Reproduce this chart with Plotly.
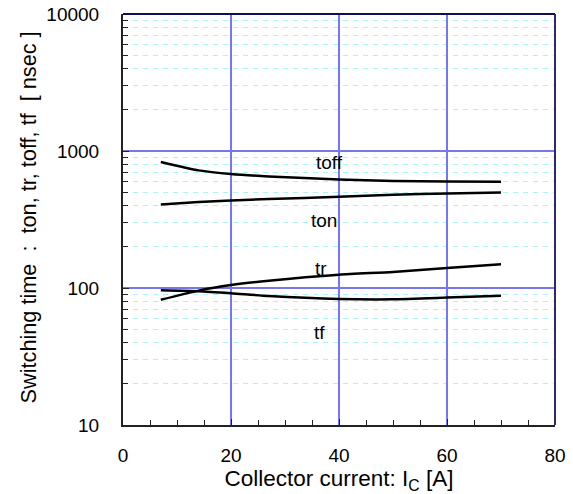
import math
import plotly.graph_objects as go

# Data
ic = [7, 14, 20, 27, 40, 50, 60, 70]
toff = [832, 722, 679, 652, 619, 605, 600, 597]
ton = [407, 424, 436, 446, 463, 480, 490, 498]
tr = [82, 95.7, 105, 113, 125, 131, 140, 149]
tf = [96.4, 94.8, 91.7, 87.5, 83.2, 82.7, 85.1, 87.9]

series_names = ["toff", "ton", "tr", "tf"]
label_x = [38.3, 37.3, 36.6, 36.3]
label_y = [826, 311, 139, 47]

x_ticks = [0, 20, 40, 60, 80]
y_ticks = [10, 100, 1000, 10000]
y_minor = [m * d for d in (10, 100, 1000) for m in range(2, 10)]

x_title = "Collector current: I<sub>C</sub> [A]"
y_title = "Switching time  :  ton, tr, toff, tf  [ nsec ]"

FONT = "Liberation Sans, Arial, sans-serif"

fig = go.Figure()
for ys in (toff, ton, tr, tf):
    fig.add_trace(go.Scatter(x=ic, y=ys, mode="lines",
                             line=dict(color="black", width=2.5, shape="spline", smoothing=0.6),
                             showlegend=False, hoverinfo="skip"))

for name, lx, ly in zip(series_names, label_x, label_y):
    fig.add_annotation(x=lx, y=math.log10(ly), yref="y", xref="x", text=name, showarrow=False,
                       font=dict(size=19, color="black", family=FONT))

# Y-axis title as rotated annotation
fig.add_annotation(x=-0.22, y=0.505, xref="paper", yref="paper", text=y_title,
                   textangle=-90, showarrow=False, xanchor="center", yanchor="middle",
                   font=dict(size=21.7, color="black", family=FONT))

# Major horizontal grid lines (blue) at 100 and 1000
for v in (100, 1000):
    fig.add_shape(type="line", xref="x", yref="y", x0=0, x1=80, y0=v, y1=v,
                  line=dict(color="#4a4ae0", width=1.5), layer="below")

fig.update_layout(
    width=573, height=494,
    margin=dict(l=123, r=18, t=14, b=69),
    plot_bgcolor="white", paper_bgcolor="white",
    font=dict(family=FONT, size=19, color="black"),
)

fig.update_xaxes(
    range=[0, 80], tickvals=x_ticks, ticktext=[str(v) for v in x_ticks],
    ticks="inside", ticklen=6, tickcolor="#222", ticklabelstandoff=12,
    showgrid=True, gridcolor="#7474ff", gridwidth=2,
    showline=True, linecolor="#222", linewidth=2, mirror=False,
    zeroline=False, automargin=False,
    minor=dict(dtick=5, ticks="inside", ticklen=5, tickcolor="#222", showgrid=False),
    title=dict(text=x_title, font=dict(size=22.5), standoff=4),
    tickfont=dict(size=19),
)

fig.update_yaxes(
    type="log", range=[1, 4], tickvals=y_ticks, ticktext=[str(v) for v in y_ticks],
    ticks="inside", ticklen=6, tickcolor="#222", ticklabelstandoff=18,
    showgrid=False, automargin=False,
    showline=True, linecolor="#222", linewidth=2, mirror=False,
    minor=dict(tickvals=y_minor, ticks="inside", ticklen=5, tickcolor="#222",
               showgrid=True, gridcolor="#a6f8f8", griddash="5px,5px", gridwidth=1),
    tickfont=dict(size=19),
)

# Top and right border lines
fig.add_shape(type="line", xref="paper", yref="paper", x0=0, x1=1, y0=1, y1=1,
              line=dict(color="#101050", width=2))
fig.add_shape(type="line", xref="paper", yref="paper", x0=1, x1=1, y0=0, y1=1,
              line=dict(color="#2a2a70", width=2))

fig.write_html("out.html", config={"displayModeBar": False},
               post_script="document.body.style.margin='0';document.body.style.overflow='hidden';")
